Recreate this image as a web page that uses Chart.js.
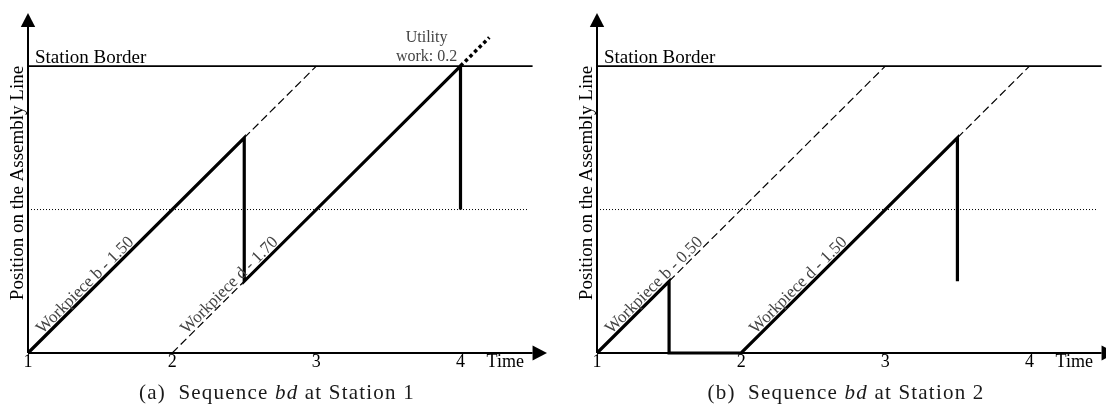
<!DOCTYPE html>
<html>
<head>
<meta charset="utf-8">
<script src="https://cdn.jsdelivr.net/npm/chart.js@4.4.1/dist/chart.umd.min.js"></script>
<style>
  body { margin: 0; width: 1106px; height: 415px; overflow: hidden; background: #fff; position: relative; }
  .panel { position: absolute; top: 0; width: 560px; height: 415px; }
  .panel canvas { position: absolute; left: 0; top: 0; }
  .caption {
    position: absolute; top: 379px; left: 0; width: 554px; text-align: center;
    font-family: "Liberation Serif", serif; font-size: 21px; line-height: 26px;
    letter-spacing: 1.2px; color: #1a1a1a; white-space: nowrap;
  }
  .caption .tag { margin-right: 6px; }
</style>
</head>
<body>
<div class="panel" style="left:0">
  <canvas id="station1" width="560" height="380"></canvas>
  <div class="caption"><span class="tag">(a)</span> Sequence <i>bd</i> at Station 1</div>
</div>
<div class="panel" style="left:569px">
  <canvas id="station2" width="560" height="380"></canvas>
  <div class="caption"><span class="tag">(b)</span> Sequence <i>bd</i> at Station 2</div>
</div>
<script>
// axes
const timeTicks = [1, 2, 3, 4];
const timeLabelAt = 4.31;
const timeMin = 1, timeMax = 4.6;
const posMin = 0, posMax = 2.37;
const arrowBase = 4.5;

// reference lines (time, position)
const borderLine = [[1, 2], [4.5, 2]];
const halfLine = [[1, 1], [4.47, 1]];

// Station 1: b then d
const s1Work = [[1, 0], [2.5, 1.5], [2.5, 0.5], [4, 2], [4, 1]];
const s1RestB = [[2.5, 1.5], [3, 2]];
const s1RestD = [[2, 0], [2.5, 0.5]];
const s1Utility = [[4, 2], [4.2, 2.2]];
const s1Labels = ['Workpiece b - 1.50', 'Workpiece d - 1.70'];
const s1LabelAt = [[1.435, 0.435], [2.435, 0.435]];
const s1UtilityText = ['Utility', 'work: 0.2'];
const s1UtilityAt = [3.765, 2.13];

// Station 2: b then d
const s2Work = [[1, 0], [1.5, 0.5], [1.5, 0], [2, 0], [3.5, 1.5], [3.5, 0.5]];
const s2RestB = [[1.5, 0.5], [3, 2]];
const s2RestD = [[3.5, 1.5], [4, 2]];
const s2Labels = ['Workpiece b - 0.50', 'Workpiece d - 1.50'];
const s2LabelAt = [[1.435, 0.435], [2.435, 0.435]];

const SERIF = '"Liberation Serif", "Times New Roman", serif';

function lineSet(points, style) {
  return Object.assign({
    data: points.map(([x, y]) => ({ x, y })),
    showLine: true,
    pointRadius: 0,
    pointHoverRadius: 0,
    borderColor: '#000',
    fill: false,
    tension: 0,
    clip: false,
    borderCapStyle: 'butt',
    borderJoinStyle: 'miter'
  }, style);
}

// axis arrows + texts on the canvas
const decorPlugin = {
  id: 'decor',
  beforeDatasetsDraw(chart, args, opts) {
    const { ctx, scales: { x, y } } = chart;
    const x0 = x.getPixelForValue(timeMin);
    const y0 = y.getPixelForValue(posMin);
    const xBase = x.getPixelForValue(arrowBase);
    const xTip = x.getPixelForValue(timeMax);
    const yTip = y.getPixelForValue(posMax);
    ctx.save();
    ctx.strokeStyle = '#000';
    ctx.fillStyle = '#000';
    ctx.lineWidth = 2;
    ctx.beginPath();
    ctx.moveTo(x0, y0);
    ctx.lineTo(xBase, y0);
    ctx.moveTo(x0, y0);
    ctx.lineTo(x0, yTip + 14);
    ctx.stroke();
    ctx.beginPath();
    ctx.moveTo(xTip, y0);
    ctx.lineTo(xBase, y0 - 7.5);
    ctx.lineTo(xBase, y0 + 7.5);
    ctx.closePath();
    ctx.fill();
    ctx.beginPath();
    ctx.moveTo(x0, yTip);
    ctx.lineTo(x0 - 7.2, yTip + 14);
    ctx.lineTo(x0 + 7.2, yTip + 14);
    ctx.closePath();
    ctx.fill();
    ctx.restore();
  },
  afterDatasetsDraw(chart, args, opts) {
    const { ctx, scales: { x, y } } = chart;
    ctx.save();
    ctx.fillStyle = '#000';
    ctx.font = '19px ' + SERIF;
    ctx.textBaseline = 'alphabetic';
    ctx.textAlign = 'left';
    ctx.fillText('Station Border', x.getPixelForValue(timeMin) + 7, y.getPixelForValue(borderLine[0][1]) - 3);

    ctx.fillStyle = '#444';
    ctx.font = '17px ' + SERIF;
    ctx.textAlign = 'center';
    (opts.labels || []).forEach((text, i) => {
      const [t, p] = opts.labelAt[i];
      const px = x.getPixelForValue(t), py = y.getPixelForValue(p);
      const angle = Math.atan2(y.getPixelForValue(p + 1) - py, x.getPixelForValue(t + 1) - px);
      ctx.save();
      ctx.translate(px, py);
      ctx.rotate(angle);
      ctx.fillText(text, 0, -3);
      ctx.restore();
    });

    if (opts.note) {
      ctx.font = '16px ' + SERIF;
      ctx.textBaseline = 'middle';
      const nx = x.getPixelForValue(opts.noteAt[0]);
      const ny = y.getPixelForValue(opts.noteAt[1]);
      ctx.fillText(opts.note[0], nx, ny - 9.5);
      ctx.fillText(opts.note[1], nx, ny + 9.5);
    }
    ctx.restore();
  }
};

function makeStation(id, sets, decor) {
  return new Chart(document.getElementById(id), {
    type: 'scatter',
    data: { datasets: sets },
    plugins: [decorPlugin],
    options: {
      responsive: false,
      animation: false,
      events: [],
      layout: { padding: { top: 13, right: 13, bottom: 0, left: 0 } },
      plugins: { legend: { display: false }, tooltip: { enabled: false }, decor: decor },
      scales: {
        x: {
          type: 'linear',
          min: timeMin,
          max: timeMax,
          grid: { display: false, drawTicks: false },
          border: { display: false },
          afterBuildTicks(scale) {
            scale.ticks = timeTicks.concat([timeLabelAt]).map(v => ({ value: v }));
          },
          afterFit(scale) { scale.height = 27; },
          ticks: {
            autoSkip: false,
            maxRotation: 0,
            padding: 0,
            color: '#000',
            font: { family: SERIF, size: 18, lineHeight: 1 },
            callback: v => (v === timeLabelAt ? 'Time' : String(v))
          }
        },
        y: {
          type: 'linear',
          min: posMin,
          max: posMax,
          grid: { display: false, drawTicks: false },
          border: { display: false },
          ticks: { display: false },
          afterFit(scale) { scale.width = 28; },
          title: {
            display: true,
            text: 'Position on the Assembly Line',
            color: '#000',
            font: { family: SERIF, size: 19, lineHeight: 1.2 },
            padding: { top: 7, bottom: 0 }
          }
        }
      }
    }
  });
}

const refSets = () => [
  lineSet(borderLine, { borderWidth: 1.6 }),
  lineSet(halfLine, { borderWidth: 1, borderDash: [1, 2] })
];
const restStyle = { borderWidth: 1.2, borderDash: [8, 4] };
const workStyle = { borderWidth: 3.2 };

makeStation('station1', [
  ...refSets(),
  lineSet(s1RestB, restStyle),
  lineSet(s1RestD, restStyle),
  lineSet(s1Work, workStyle),
  lineSet(s1Utility, { borderWidth: 3.5, borderDash: [3.5, 3] })
], { labels: s1Labels, labelAt: s1LabelAt, note: s1UtilityText, noteAt: s1UtilityAt });

makeStation('station2', [
  ...refSets(),
  lineSet(s2RestB, restStyle),
  lineSet(s2RestD, restStyle),
  lineSet(s2Work, workStyle)
], { labels: s2Labels, labelAt: s2LabelAt });
</script>
</body>
</html>
